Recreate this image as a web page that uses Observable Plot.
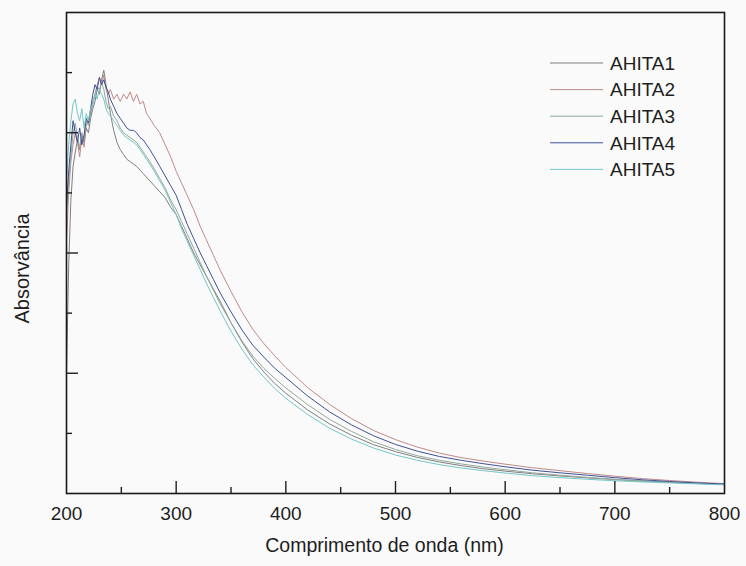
<!DOCTYPE html>
<html>
<head>
<meta charset="utf-8">
<script src="https://cdn.jsdelivr.net/npm/d3@7"></script>
<script src="https://cdn.jsdelivr.net/npm/@observablehq/plot@0.6"></script>
<style>
  body { margin: 0; background: #fafafa; }
  #chart { width: 746px; height: 566px; }
  #chart svg { display: block; }
</style>
</head>
<body>
<div id="chart"></div>
<script>
// UV-Vis absorbance spectra of five samples (arbitrary absorbance units)
const wavelengths = [
  200, 202, 204, 206, 208, 210, 212, 214, 216, 218, 220, 222, 224, 226, 228, 230, 232, 234, 236, 238, 240,
  243, 246, 249, 252, 255, 258, 261, 264, 267, 270, 273, 276,
  280, 285, 290, 295, 300, 305, 310,
  316, 322, 328, 334, 340,
  350, 360, 370, 380, 390, 400,
  420, 440, 460, 480, 500, 520, 540, 560, 580, 600,
  625, 650, 675, 700, 725, 750, 775, 800
];

const ahita1 = [
  0.50, 0.95, 1.22, 1.36, 1.42, 1.47, 1.43, 1.49, 1.46, 1.52, 1.50, 1.56, 1.60, 1.63, 1.68, 1.66, 1.72, 1.76, 1.70, 1.64, 1.58,
  1.51, 1.46, 1.43, 1.41, 1.39, 1.38, 1.37, 1.36, 1.345, 1.33, 1.315, 1.30,
  1.28, 1.255, 1.23, 1.19, 1.16, 1.11, 1.06,
  1.00, 0.95, 0.90, 0.85, 0.80,
  0.71, 0.63, 0.56, 0.505, 0.457, 0.417,
  0.347, 0.289, 0.242, 0.203, 0.174, 0.15, 0.131, 0.116, 0.103, 0.093,
  0.082, 0.073, 0.065, 0.058, 0.052, 0.047, 0.043, 0.039
];

const ahita2 = [
  1.05, 1.25, 1.38, 1.45, 1.50, 1.46, 1.40, 1.48, 1.44, 1.53, 1.55, 1.58, 1.62, 1.66, 1.70, 1.73, 1.70, 1.74, 1.68, 1.66, 1.68,
  1.64, 1.66, 1.63, 1.66, 1.64, 1.67, 1.63, 1.66, 1.62, 1.63, 1.58, 1.56,
  1.53, 1.50, 1.45, 1.40, 1.34, 1.29, 1.24,
  1.18, 1.11, 1.05, 0.99, 0.93,
  0.84, 0.755, 0.682, 0.623, 0.572, 0.524,
  0.44, 0.37, 0.311, 0.262, 0.224, 0.193, 0.168, 0.149, 0.135, 0.122,
  0.107, 0.095, 0.083, 0.072, 0.062, 0.054, 0.047, 0.041
];

const ahita3 = [
  1.15, 1.30, 1.40, 1.50, 1.54, 1.48, 1.44, 1.50, 1.47, 1.55, 1.53, 1.58, 1.63, 1.66, 1.69, 1.68, 1.71, 1.68, 1.63, 1.60, 1.61,
  1.57, 1.55, 1.52, 1.50, 1.49, 1.48, 1.47, 1.46, 1.44, 1.42, 1.40, 1.38,
  1.35, 1.31, 1.27, 1.22, 1.18, 1.13, 1.08,
  1.02, 0.96, 0.90, 0.845, 0.79,
  0.71, 0.635, 0.571, 0.52, 0.478, 0.439,
  0.369, 0.308, 0.258, 0.215, 0.183, 0.157, 0.138, 0.123, 0.11, 0.099,
  0.086, 0.076, 0.067, 0.059, 0.052, 0.046, 0.041, 0.037
];

const ahita4 = [
  1.20, 1.34, 1.45, 1.55, 1.50, 1.46, 1.52, 1.45, 1.49, 1.56, 1.54, 1.60, 1.66, 1.70, 1.68, 1.73, 1.70, 1.72, 1.69, 1.67, 1.64,
  1.61, 1.58, 1.56, 1.54, 1.52, 1.51, 1.51, 1.50, 1.48, 1.47, 1.45, 1.43,
  1.40, 1.36, 1.32, 1.28, 1.24, 1.18, 1.12,
  1.06, 1.00, 0.945, 0.89, 0.835,
  0.755, 0.68, 0.616, 0.567, 0.52, 0.482,
  0.405, 0.339, 0.285, 0.24, 0.204, 0.176, 0.154, 0.138, 0.124, 0.111,
  0.097, 0.086, 0.076, 0.066, 0.057, 0.05, 0.044, 0.039
];

const ahita5 = [
  1.30, 1.45, 1.55, 1.62, 1.64, 1.58, 1.55, 1.60, 1.52, 1.58, 1.55, 1.60, 1.62, 1.66, 1.64, 1.68, 1.66, 1.64, 1.60, 1.58, 1.57,
  1.55, 1.53, 1.51, 1.49, 1.48, 1.47, 1.46, 1.45, 1.43, 1.41, 1.39, 1.37,
  1.34, 1.30, 1.26, 1.21, 1.16, 1.10, 1.05,
  0.99, 0.93, 0.87, 0.815, 0.76,
  0.675, 0.60, 0.535, 0.484, 0.436, 0.396,
  0.328, 0.271, 0.226, 0.189, 0.16, 0.138, 0.12, 0.106, 0.095, 0.085,
  0.074, 0.066, 0.059, 0.053, 0.048, 0.044, 0.04, 0.036
];

const seriesNames = ["AHITA1", "AHITA2", "AHITA3", "AHITA4", "AHITA5"];
const seriesColors = ["#7f7f7f", "#c08a8a", "#93a89c", "#3f5196", "#74c6c6"];

const xMajorTicks = [200, 300, 400, 500, 600, 700, 800];
const xMinorTicks = [250, 350, 450, 550, 650, 750];
const yMajorTicks = [0.5, 1.0, 1.5];
const yMinorTicks = [0.25, 0.75, 1.25, 1.75];

const seriesValues = [ahita1, ahita2, ahita3, ahita4, ahita5];
const rows = seriesNames.flatMap((name, i) =>
  wavelengths.map((w, j) => ({ name, wavelength: w, absorbance: seriesValues[i][j] }))
);

const W = 746, H = 566;
const margin = { left: 66, right: 22, top: 12, bottom: 73 };
const font = "'Liberation Sans', Arial, Helvetica, sans-serif";
const ink = "#1e1e1e";

const chart = Plot.plot({
  width: W,
  height: H,
  marginLeft: margin.left,
  marginRight: margin.right,
  marginTop: margin.top,
  marginBottom: margin.bottom,
  style: { background: "transparent", fontFamily: font, color: ink },
  x: { domain: [200, 800] },
  y: { domain: [0, 2] },
  color: { domain: seriesNames, range: seriesColors },
  marks: [
    Plot.line(rows, {
      x: "wavelength", y: "absorbance", z: "name", stroke: "name",
      strokeWidth: 1, curve: "linear"
    }),
    // tick labels along the bottom
    Plot.axisX(xMajorTicks, { tickSize: 0, tickPadding: 13, fontSize: 19, label: null, tickFormat: d => String(d) }),
    // inward-pointing tick marks
    Plot.axisX(xMajorTicks.slice(1, -1), { tickSize: -12, fill: "none", label: null, stroke: ink, strokeWidth: 1.4 }),
    Plot.axisX(xMinorTicks, { tickSize: -6, fill: "none", label: null, stroke: ink, strokeWidth: 1.4 }),
    Plot.axisY(yMajorTicks, { tickSize: -12, fill: "none", label: null, stroke: ink, strokeWidth: 1.4 }),
    Plot.axisY(yMinorTicks, { tickSize: -6, fill: "none", label: null, stroke: ink, strokeWidth: 1.4 }),
    Plot.frame({ stroke: "#1a1a1a", strokeWidth: 1.6 }),
    Plot.text(["Comprimento de onda (nm)"], { frameAnchor: "bottom", dx: -11, dy: 58, fontSize: 19.5, fill: ink })
  ]
});

const svg = d3.select(chart);

// Vertical axis title
svg.append("text")
  .attr("transform", `translate(22, ${(margin.top + H - margin.bottom) / 2 + 16}) rotate(-90)`)
  .attr("text-anchor", "middle")
  .attr("dy", "0.35em")
  .attr("font-family", font)
  .attr("font-size", 20)
  .attr("fill", ink)
  .text("Absorvância");

// Legend inside the upper-right corner of the frame
const legendX = W - margin.right - 174;
const legendY = margin.top + 51;
const rowStep = 26.6;
const legend = svg.append("g")
  .attr("font-family", font)
  .attr("font-size", 19)
  .attr("fill", ink)
  .attr("text-anchor", "start");
seriesNames.forEach((name, i) => {
  const y = legendY + i * rowStep;
  legend.append("line")
    .attr("x1", legendX).attr("x2", legendX + 53)
    .attr("y1", y).attr("y2", y)
    .attr("stroke", seriesColors[i]).attr("stroke-width", 1);
  legend.append("text")
    .attr("x", legendX + 60).attr("y", y).attr("dy", "0.36em")
    .text(name);
});

document.getElementById("chart").append(chart);
</script>
</body>
</html>
